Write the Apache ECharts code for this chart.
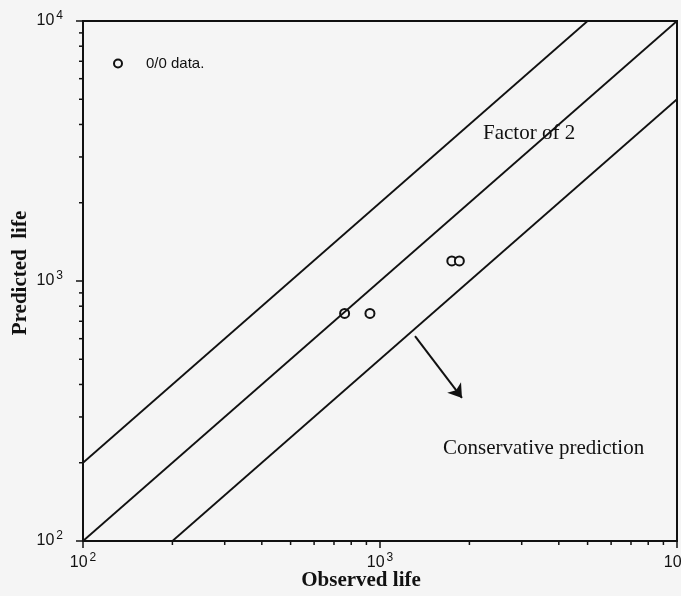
<!DOCTYPE html>
<html>
<head>
<meta charset="utf-8">
<script src="https://cdn.jsdelivr.net/npm/echarts@6/dist/echarts.min.js"></script>
<style>
  html, body { margin: 0; padding: 0; background: #f5f5f5; }
  #chart { width: 681px; height: 596px; }
</style>
</head>
<body>
<div id="chart"></div>
<script>
// Observed vs predicted life, both on log scales
const observedLife = [760, 925, 1745, 1850];
const predictedLife = [750, 750, 1195, 1195];

// Factor-of-2 band: upper bound, unity line, lower bound
const upperBound = [[100, 200], [5000, 10000]];
const unityLine = [[100, 100], [10000, 10000]];
const lowerBound = [[200, 100], [10000, 5000]];

// Arrow pointing toward the conservative side
const arrowPath = [[1312, 614], [1888, 355]];

// Decade tick values and their exponents, plus the 2..9 minor ticks
const decadeTicks = [100, 1000, 10000];
const decadeExponents = ['2', '3', '4'];
const minorTicks = [200, 300, 400, 500, 600, 700, 800, 900,
                    2000, 3000, 4000, 5000, 6000, 7000, 8000, 9000];

const INK = '#111';
const SERIF = '"Liberation Serif", "DejaVu Serif", serif';
const SANS = '"Liberation Sans", Arial, sans-serif';

function decadeLabel(val) {
  const i = decadeTicks.findIndex(t => Math.abs(t - val) / t < 1e-6);
  if (i < 0) return '';
  return '{b|10}{s|' + decadeExponents[i] + '}';
}

const labelRich = {
  b: { fontFamily: SANS, fontSize: 16, color: INK, lineHeight: 22 },
  s: { fontFamily: SANS, fontSize: 12, color: INK, lineHeight: 12,
       verticalAlign: 'top', padding: [0, 0, 0, 2] }
};

function logAxis(extra) {
  return Object.assign({
    type: 'log',
    logBase: 10,
    min: 100,
    max: 10000,
    axisLine: { show: true, lineStyle: { color: INK, width: 2 } },
    axisTick: { show: true, inside: false, length: 7, lineStyle: { color: INK, width: 1.5 } },
    minorTick: { show: false },
    splitLine: { show: false },
    minorSplitLine: { show: false }
  }, extra);
}

const chart = echarts.init(document.getElementById('chart'), null, { renderer: 'canvas' });

chart.setOption({
  animation: false,
  backgroundColor: '#f5f5f5',
  grid: {
    left: 83, right: 4, top: 21, bottom: 55,
    containLabel: false, outerBoundsMode: 'none',
    show: true, borderColor: INK, borderWidth: 2, backgroundColor: 'transparent'
  },
  xAxis: logAxis({
    axisLabel: {
      showMinLabel: true, showMaxLabel: true, margin: 11, hideOverlap: false,
      formatter: decadeLabel, rich: labelRich
    }
  }),
  yAxis: logAxis({
    axisLabel: {
      showMinLabel: true, showMaxLabel: true, margin: 20,
      formatter: decadeLabel, rich: labelRich
    }
  }),
  legend: {
    show: true,
    data: ['0/0 data.'],
    left: 108, top: 51,
    itemWidth: 46, itemHeight: 8,
    textStyle: { fontFamily: SANS, fontSize: 15, color: INK }
  },
  graphic: [
    { type: 'text', x: 483, y: 133,
      style: { text: 'Factor of 2', font: '21px ' + SERIF, fill: INK, verticalAlign: 'middle' } },
    { type: 'text', x: 443, y: 448,
      style: { text: 'Conservative prediction', font: '21px ' + SERIF, fill: INK, verticalAlign: 'middle' } },
    { type: 'text', x: 361, y: 581,
      style: { text: 'Observed life', font: 'bold 21px ' + SERIF, fill: INK,
               align: 'center', verticalAlign: 'middle' } },
    { type: 'text', x: 21, y: 273, rotation: Math.PI / 2,
      style: { text: 'Predicted  life', font: 'bold 21px ' + SERIF, fill: INK,
               align: 'center', verticalAlign: 'middle' } }
  ],
  series: [
    {
      name: 'upper', type: 'line', data: upperBound, showSymbol: false, silent: true,
      lineStyle: { color: INK, width: 1.8 }
    },
    {
      name: 'unity', type: 'line', data: unityLine, showSymbol: false, silent: true,
      lineStyle: { color: INK, width: 1.8 }
    },
    {
      name: 'lower', type: 'line', data: lowerBound, showSymbol: false, silent: true,
      lineStyle: { color: INK, width: 1.8 }
    },
    {
      name: 'arrow', type: 'lines', coordinateSystem: 'cartesian2d', silent: true,
      symbol: ['none', 'arrow'], symbolSize: 13,
      lineStyle: { color: INK, width: 2, opacity: 1 },
      data: [{ coords: arrowPath }]
    },
    {
      name: 'minor ticks', type: 'custom', coordinateSystem: 'cartesian2d',
      silent: true, clip: false,
      data: minorTicks.map(v => [v, v]),
      renderItem: function (params, api) {
        const v = api.value(0);
        const px = api.coord([v, 100]);
        const py = api.coord([100, v]);
        return {
          type: 'group',
          children: [
            { type: 'line', shape: { x1: px[0], y1: px[1], x2: px[0], y2: px[1] + 4 },
              style: { stroke: INK, lineWidth: 1.5 } },
            { type: 'line', shape: { x1: py[0], y1: py[1], x2: py[0] - 4, y2: py[1] },
              style: { stroke: INK, lineWidth: 1.5 } }
          ]
        };
      }
    },
    {
      name: '0/0 data.', type: 'scatter',
      data: observedLife.map((x, i) => [x, predictedLife[i]]),
      symbol: 'circle', symbolSize: 9,
      itemStyle: { color: '#f5f5f5', borderColor: INK, borderWidth: 2, opacity: 1 }
    }
  ]
});
</script>
</body>
</html>
